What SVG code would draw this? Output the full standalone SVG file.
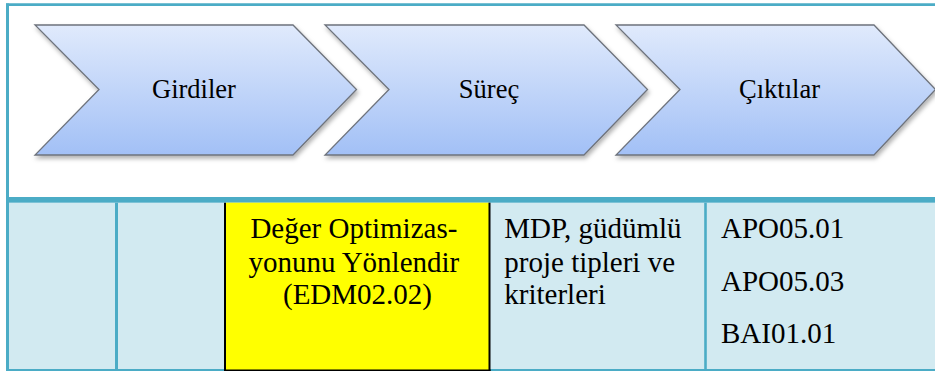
<svg xmlns="http://www.w3.org/2000/svg" width="935" height="371" viewBox="0 0 935 371">
  <defs>
    <linearGradient id="chevFill" x1="0" y1="0" x2="0" y2="1">
      <stop offset="0" stop-color="#E0EAFC"/>
      <stop offset="1" stop-color="#A2C0F6"/>
    </linearGradient>
    <filter id="shadow" x="-5%" y="-10%" width="115%" height="130%">
      <feDropShadow dx="1.5" dy="3" stdDeviation="2" flood-color="#000" flood-opacity="0.3"/>
    </filter>
    <style>
      .chev { fill: url(#chevFill); stroke: #6E737C; stroke-width: 1.3; filter: url(#shadow); }
      .chevText { font-family: "Liberation Serif", "Times New Roman", serif; font-size: 26.5px; fill: #000; text-anchor: middle; }
      .cellText { font-family: "Liberation Serif", "Times New Roman", serif; font-size: 29px; fill: #000; }
      .teal { fill: #4BACC6; }
      .tealLine { stroke: #4BACC6; fill: none; }
    </style>
  </defs>

  <rect x="0" y="0" width="935" height="371" fill="#FFFFFF"/>

  <g id="table">
    <rect x="9" y="202.7" width="926" height="167" fill="#D2EAF1"/>
    <line class="tealLine" x1="6" y1="4.7" x2="935" y2="4.7" stroke-width="2.7"/>
    <line class="tealLine" x1="7.5" y1="3.4" x2="7.5" y2="371" stroke-width="3"/>
    <rect class="teal" x="6" y="197" width="929" height="5.7"/>
    <line class="tealLine" x1="116.5" y1="202.7" x2="116.5" y2="370" stroke-width="3"/>
    <line class="tealLine" x1="705.5" y1="202.7" x2="705.5" y2="370" stroke-width="2.6"/>
    <line class="tealLine" x1="6" y1="370" x2="935" y2="370" stroke-width="2"/>
  </g>

  <g id="chevron-girdiler">
    <path class="chev" d="M35,25 L293,25 L356.5,89.5 L293,155 L35,155 L99,89.5 Z"/>
    <text class="chevText" x="194" y="97.5">Girdiler</text>
  </g>
  <g id="chevron-surec">
    <path class="chev" d="M325,25 L584,25 L647.5,89.5 L584,155 L325,155 L389,89.5 Z"/>
    <text class="chevText" x="489" y="97.5">Süreç</text>
  </g>
  <g id="chevron-ciktilar">
    <path class="chev" d="M616,25 L874,25 L935.5,89.5 L874,155 L616,155 L680,89.5 Z"/>
    <text class="chevText" x="779.5" y="97.5">Çıktılar</text>
  </g>

  <g id="cell-process">
    <rect x="226" y="202.7" width="263" height="167.3" fill="#FFFF00"/>
    <line x1="225" y1="202.7" x2="225" y2="371" stroke="#000" stroke-width="2"/>
    <line x1="489.5" y1="202.7" x2="489.5" y2="371" stroke="#000" stroke-width="2"/>
    <line x1="224" y1="370.3" x2="490.5" y2="370.3" stroke="#000" stroke-width="1.6"/>
    <text class="cellText" text-anchor="middle">
      <tspan x="357.5" y="237.5">Değer Optimizas-</tspan>
      <tspan x="357.5" y="271.7">yonunu Yönlendir</tspan>
      <tspan x="357.5" y="304">(EDM02.02)</tspan>
    </text>
  </g>

  <g id="cell-inputs">
    <text class="cellText">
      <tspan x="504.3" y="237.7">MDP, güdümlü</tspan>
      <tspan x="504.3" y="271.7">proje tipleri ve</tspan>
      <tspan x="504.3" y="303.5">kriterleri</tspan>
    </text>
  </g>

  <g id="cell-outputs">
    <text class="cellText">
      <tspan x="721" y="237.7">APO05.01</tspan>
      <tspan x="721" y="290.5">APO05.03</tspan>
      <tspan x="721" y="343.4">BAI01.01</tspan>
    </text>
  </g>

  <g id="connectors"/>
</svg>
